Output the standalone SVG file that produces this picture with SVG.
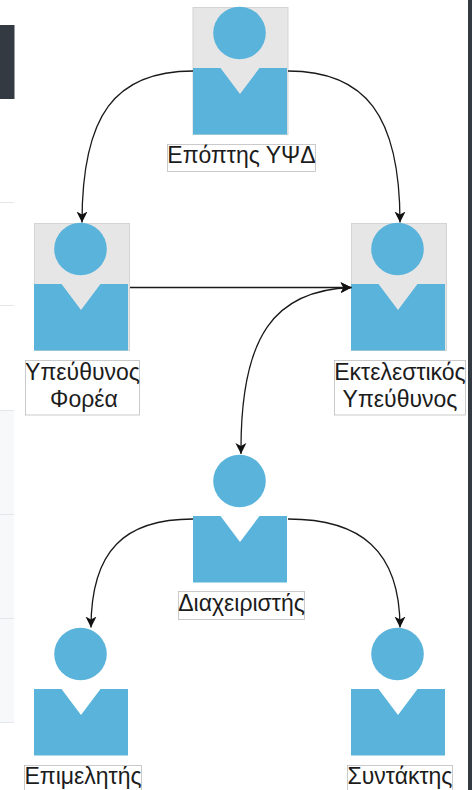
<svg xmlns="http://www.w3.org/2000/svg" width="472" height="790" viewBox="0 0 472 790">
<style>
.b{fill:#5ab3da}
.g{fill:#e6e6e6;stroke:#d4d4d4;stroke-width:1}
.c{fill:none;stroke:#1a1a1a;stroke-width:1.300}
.l{fill:#fff;stroke:#bdbdbd;stroke-width:.8}
text{font-family:"Liberation Sans",Arial,sans-serif;font-size:23px;fill:#1c1c1c;text-anchor:middle}
.r{fill:#e4e6ea}
</style>
<defs>
<marker id="a" markerWidth="13" markerHeight="13" refX="11" refY="6" orient="auto" markerUnits="userSpaceOnUse"><path d="M0 0.500L11 6L0 11.500L3 6Z" fill="#111"/></marker>
<marker id="s" markerWidth="13" markerHeight="13" refX="0" refY="6" orient="auto" markerUnits="userSpaceOnUse"><path d="M11 0.500L0 6L11 11.500L8 6Z" fill="#111"/></marker>
<g id="p"><circle cx="46.500" cy="26" r="26.300" class="b"/><path d="M0 61H27.500L47 87L66.500 61H94V127.500H0Z" class="b"/></g>
</defs>
<g id="background">
<rect x="0" y="25" width="14.500" height="74" fill="#343a42"/>
<rect x="0" y="410" width="14" height="312" fill="#f7f8fa"/>
<rect x="0" y="202" width="14" height="1" class="r"/><rect x="0" y="305" width="14" height="1" class="r"/><rect x="0" y="410" width="14" height="1" class="r"/><rect x="0" y="514" width="14" height="1" class="r"/><rect x="0" y="618" width="14" height="1" class="r"/><rect x="0" y="722" width="14" height="1" class="r"/>
<rect x="468" y="0" width="4" height="790" fill="#343a42"/>
</g>
<g id="n1"><rect x="193" y="7.500" width="95" height="127" class="g"/><use href="#p" x="193" y="7"/><rect x="167.500" y="144.500" width="148" height="27" class="l"/><text x="241.500" y="163">Επόπτης ΥΨΔ</text></g>
<g id="n2"><rect x="34.500" y="223.500" width="95" height="127" class="g"/><use href="#p" x="34" y="223"/><rect x="25.500" y="360.500" width="114" height="54.500" class="l"/><text x="82.500" y="380">Υπεύθυνος</text><text x="84" y="407">Φορέα</text></g>
<g id="n3"><rect x="351.500" y="223.500" width="95" height="127" class="g"/><use href="#p" x="351" y="223"/><rect x="334.500" y="360.500" width="131" height="54.500" class="l"/><text x="400" y="380">Εκτελεστικός</text><text x="400" y="407">Υπεύθυνος</text></g>
<g id="n4"><use href="#p" x="193" y="455"/><rect x="178.500" y="591.500" width="126" height="28" class="l"/><text x="241.500" y="611">Διαχειριστής</text></g>
<g id="n5"><use href="#p" x="34" y="628"/><rect x="24.500" y="765.500" width="117" height="28" class="l"/><text x="83" y="784">Επιμελητής</text></g>
<g id="n6"><use href="#p" x="351" y="628"/><rect x="347.500" y="765.500" width="105" height="28" class="l"/><text x="400" y="784">Συντάκτης</text></g>
<g id="connectors">
<path d="M193 71C115 71 82 115 82 222.500" class="c" marker-end="url(#a)"/>
<path d="M288 71C365 71 400 115 400 222.500" class="c" marker-end="url(#a)"/>
<path d="M130 287.500H351.500" class="c" marker-end="url(#a)"/>
<path d="M351.500 287.500C275 290 240 335 241 454" class="c" marker-start="url(#s)" marker-end="url(#a)"/>
<path d="M193 519C125 519 91 550 91 627.500" class="c" marker-end="url(#a)"/>
<path d="M288 519C360 519 400 550 400 627.500" class="c" marker-end="url(#a)"/>
</g>
</svg>
